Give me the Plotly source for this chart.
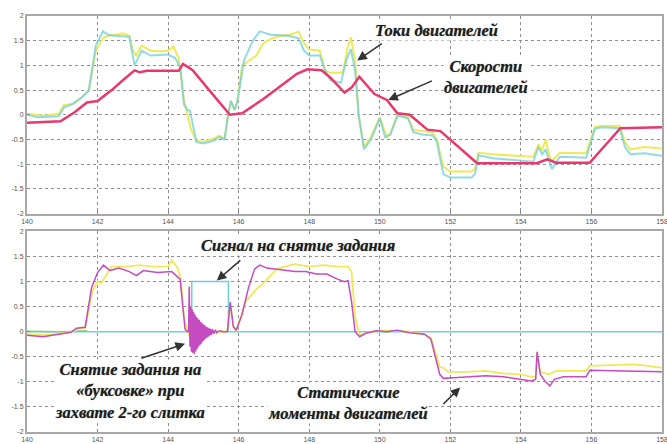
import plotly.graph_objects as go

# ---------------- DATA ----------------
# Top panel: motor currents (yellow, cyan) and motor speeds (red)
top_yellow_t = [140, 140.5, 140.9, 141.05, 141.3, 141.55, 141.75, 141.95, 142.15, 142.3, 142.5, 142.7,
                142.9, 143.0, 143.1, 143.25, 143.5, 143.8, 144.0, 144.15, 144.3, 144.45, 144.55, 144.65,
                144.8, 145.0, 145.3, 145.45, 145.6, 145.7, 145.78, 145.88, 145.96, 146.1, 146.3, 146.5,
                146.7, 146.95, 147.2, 147.45, 147.7, 147.85, 148.0, 148.3, 148.45, 148.6, 148.95, 149.1,
                149.18, 149.3, 149.4, 149.55, 149.75, 150.0, 150.2, 150.3, 150.5, 150.8, 150.95, 151.2,
                151.5, 151.62, 151.8, 152.0, 152.6, 152.7, 152.8, 153.2, 153.8, 154.35, 154.5, 154.6,
                154.7, 154.85, 155.1, 155.5, 155.85, 156.1, 156.3, 156.8, 156.95, 157.1, 157.5, 158]
top_yellow_v = [0.02, -0.02, 0.02, 0.2, 0.22, 0.35, 0.5, 1.3, 1.55, 1.6, 1.62, 1.65,
                1.6, 1.3, 1.2, 1.4, 1.3, 1.28, 1.3, 1.38, 1.15, 0.3, 0.0, -0.3,
                -0.52, -0.55, -0.48, -0.42, -0.48, 0.0, 0.28, 0.1, 0.25, 1.0, 1.1, 1.2,
                1.45, 1.55, 1.6, 1.62, 1.68, 1.45, 1.32, 1.3, 0.9, 0.85, 0.85, 1.4,
                1.57, 1.1, 0.0, -0.65, -0.45, -0.05, -0.45, -0.38, 0.0, -0.05, -0.3, -0.33,
                -0.36, -0.5, -1.05, -1.15, -1.15, -1.1, -0.77, -0.8, -0.83, -0.85, -0.6, -0.72,
                -0.5, -0.95, -0.77, -0.78, -0.78, -0.25, -0.22, -0.23, -0.55, -0.7, -0.65, -0.68]

top_cyan_t = [140, 140.3, 140.9, 141.05, 141.3, 141.55, 141.75, 141.95, 142.15, 142.3, 142.5, 142.9,
              143.05, 143.25, 143.5, 144.0, 144.2, 144.35, 144.45, 144.55, 144.62, 144.8, 145.0, 145.3,
              145.45, 145.6, 145.7, 145.78, 145.88, 145.96, 146.15, 146.4, 146.6, 146.9, 147.4, 147.7,
              147.85, 148.0, 148.3, 148.45, 148.6, 148.9, 149.05, 149.18, 149.3, 149.4, 149.55, 149.75,
              150.0, 150.15, 150.3, 150.5, 150.8, 150.95, 151.2, 151.5, 151.62, 151.8, 152.0, 152.6,
              152.7, 152.8, 153.2, 153.8, 154.35, 154.5, 154.6, 154.7, 154.88, 155.1, 155.85, 156.1,
              156.3, 156.8, 156.95, 157.1, 157.5, 158]
top_cyan_v = [0.0, -0.05, -0.03, 0.15, 0.22, 0.35, 0.48, 1.4, 1.69, 1.62, 1.6, 1.58,
              1.0, 1.3, 1.2, 1.22, 1.15, 0.95, 0.2, 0.1, 0.08, -0.55, -0.58, -0.52,
              -0.45, -0.5, 0.0, 0.28, 0.1, 0.25, 1.1, 1.5, 1.69, 1.62, 1.6, 1.55,
              1.3, 1.2, 1.2, 0.9, 0.7, 0.65, 1.1, 1.33, 0.9, 0.0, -0.7, -0.5,
              -0.07, -0.45, -0.4, -0.02, -0.07, -0.35, -0.4, -0.42, -0.55, -1.2, -1.27, -1.27,
              -1.2, -0.82, -0.88, -0.92, -0.95, -0.65, -0.8, -0.7, -1.1, -0.85, -0.87, -0.28,
              -0.25, -0.27, -0.65, -0.8, -0.78, -0.83]

top_red_t = [140, 140.95, 141.35, 141.7, 142.0, 142.4, 142.75, 143.05, 143.2, 143.4, 144.3, 144.42,
             144.6, 144.7, 145.2, 145.75, 146.1, 146.7, 147.65, 147.95, 148.35, 148.6, 149.0, 149.2,
             149.42, 149.6, 149.85, 150.2, 150.5, 150.85, 151.35, 151.72, 152.76, 154.45, 154.75, 155.0,
             155.95, 156.82, 158]
top_red_v = [-0.16, -0.13, 0.05, 0.25, 0.28, 0.5, 0.72, 0.9, 0.86, 0.89, 0.89, 1.03,
             0.95, 0.9, 0.47, 0.0, 0.03, 0.32, 0.83, 0.92, 0.9, 0.75, 0.45, 0.55,
             0.77, 0.62, 0.42, 0.3, 0.03, 0.0, -0.3, -0.33, -0.98, -0.98, -0.9, -0.97,
             -0.97, -0.27, -0.25]

# Bottom panel: static moments (yellow, magenta) and release signal (cyan)
bot_magenta_t = [140, 140.45, 140.9, 141.25, 141.4, 141.65, 141.83, 142.0, 142.17, 142.35, 142.6, 142.9,
                 143.1, 143.3, 143.7, 144.1, 144.34, 144.48, 144.55, 144.58, 144.6, 144.62, 144.64, 144.66,
                 144.68, 144.7, 144.72, 144.74, 144.76, 144.78, 144.8, 144.82, 144.84, 144.86, 144.88, 144.9,
                 144.92, 144.94, 144.96, 144.98, 145.0, 145.02, 145.04, 145.06, 145.08, 145.1, 145.12, 145.14,
                 145.16, 145.18, 145.2, 145.23, 145.26, 145.3, 145.34, 145.38, 145.45, 145.55, 145.68, 145.76,
                 145.85, 145.93, 146.09, 146.28, 146.45, 146.6, 146.8, 147.0, 147.3, 147.6, 147.9, 148.2,
                 148.5, 148.8, 149.0, 149.1, 149.2, 149.3, 149.43, 149.6, 149.9, 150.2, 150.5, 150.84,
                 151.27, 151.45, 151.7, 151.8, 152.1, 152.5, 153.0, 153.5, 154.0, 154.3, 154.42, 154.46,
                 154.55, 154.7, 154.82, 154.95, 155.2, 155.85, 155.95, 156.5, 157.2, 158]
bot_magenta_v = [-0.07, -0.1, -0.05, -0.01, 0.07, 0.09, 0.88, 1.18, 1.33, 1.22, 1.27, 1.2,
                 1.12, 1.22, 1.18, 1.2, 1.05, 0.05, 0.0, 0.0, 0.9, -0.3, 0.5, -0.4,
                 0.45, -0.42, 0.4, -0.45, 0.35, -0.4, 0.3, -0.35, 0.27, -0.3, 0.24, -0.27,
                 0.2, -0.24, 0.18, -0.2, 0.15, -0.17, 0.13, -0.14, 0.1, -0.12, 0.09, -0.1,
                 0.07, -0.08, 0.06, -0.06, 0.05, -0.04, 0.04, -0.02, 0.02, 0.0, 0.0, 0.59,
                 0.1, 0.03, 0.33, 0.88, 1.25, 1.33, 1.27, 1.25, 1.23, 1.2, 1.2, 1.15,
                 1.15, 1.05, 1.0, 1.02, 0.6, 0.0, -0.1, -0.03, 0.02, 0.0, 0.03, -0.02,
                 -0.05, -0.15, -0.85, -0.93, -0.92, -0.9, -0.88, -0.9, -0.95, -0.98, -0.95, -0.4,
                 -0.85, -1.0, -1.08, -0.95, -0.9, -0.9, -0.77, -0.78, -0.78, -0.8]

bot_yellow_t = [140, 140.5, 141.0, 141.3, 141.45, 141.65, 141.85, 142.0, 142.1, 142.4, 142.8, 143.2,
                143.6, 144.0, 144.1, 144.25, 144.35, 144.45, 144.55, 144.62, 144.7, 145.6, 145.68, 145.76,
                145.85, 145.93, 146.2, 146.5, 146.7, 147.08, 147.3, 147.6, 148.0, 148.4, 148.8, 149.1,
                149.2, 149.3, 149.4, 149.45, 149.6, 150.0, 150.5, 150.84, 151.27, 151.45, 151.7, 151.8,
                151.95, 152.5, 153.0, 153.5, 154.0, 154.3, 154.42, 154.46, 154.55, 154.8, 155.0, 155.85,
                155.95, 156.5, 157.2, 157.6, 158]
bot_yellow_v = [-0.05, -0.07, -0.03, 0.0, 0.06, 0.08, 0.8, 1.0, 0.97, 1.3, 1.3, 1.33,
                1.3, 1.3, 1.42, 1.3, 1.1, 0.3, 0.0, -0.1, 0.0, 0.0, 0.02, 0.55,
                0.1, 0.02, 0.6, 0.85, 0.97, 1.25, 1.3, 1.35, 1.3, 1.33, 1.3, 1.3,
                1.2, 0.3, 0.0, -0.08, -0.02, 0.02, 0.02, 0.0, -0.05, -0.12, -0.7, -0.72,
                -0.8, -0.8, -0.78, -0.83, -0.85, -0.9, -0.9, -0.45, -0.8, -0.85, -0.78, -0.78,
                -0.68, -0.67, -0.65, -0.68, -0.72]

bot_signal_t = [140, 144.67, 144.67, 145.71, 145.71, 158]
bot_signal_v = [0, 0, 1, 1, 0, 0]

bot_green_t = [140, 141.0, 141.7]
bot_green_v = [0.01, 0.0, 0.02]

y_tickvals = [-2, -1.5, -1, -0.5, 0, 0.5, 1, 1.5, 2]
y_ticktext = ["-2", "-1.5", "-1", "-0.5", "0", "0.5", "1", "1.5", "2"]
x_tickvals = [140, 142, 144, 146, 148, 150, 152, 154, 156, 158]

# ---------------- FIGURE ----------------
YELLOW = "#efe95a"
CYAN = "#6fcfdc"
RED = "#e8386c"
MAGENTA = "#c44cc0"
GREEN = "#8cc878"

fig = go.Figure()
fig.add_trace(go.Scatter(x=top_yellow_t, y=top_yellow_v, mode="lines",
                         line=dict(color=YELLOW, width=2), xaxis="x", yaxis="y"))
fig.add_trace(go.Scatter(x=top_cyan_t, y=top_cyan_v, mode="lines", opacity=0.75,
                         line=dict(color=CYAN, width=2), xaxis="x", yaxis="y"))
fig.add_trace(go.Scatter(x=top_red_t, y=top_red_v, mode="lines",
                         line=dict(color=RED, width=2.5), xaxis="x", yaxis="y"))

fig.add_trace(go.Scatter(x=bot_signal_t, y=bot_signal_v, mode="lines",
                         line=dict(color=CYAN, width=1.5), xaxis="x2", yaxis="y2"))
fig.add_trace(go.Scatter(x=bot_green_t, y=bot_green_v, mode="lines",
                         line=dict(color=GREEN, width=1.5), xaxis="x2", yaxis="y2"))
fig.add_trace(go.Scatter(x=bot_yellow_t, y=bot_yellow_v, mode="lines",
                         line=dict(color=YELLOW, width=1.8), xaxis="x2", yaxis="y2"))
fig.add_trace(go.Scatter(x=bot_magenta_t, y=bot_magenta_v, mode="lines",
                         line=dict(color=MAGENTA, width=1.5), xaxis="x2", yaxis="y2"))

axis_common = dict(
    showgrid=True, gridcolor="#8f8f8f", griddash="dot", gridwidth=1,
    showline=True, mirror=True, linecolor="#a8a8a8", linewidth=2,
    ticks="inside", ticklen=3, tickcolor="#888888",
    tickfont=dict(family="Liberation Sans", size=7, color="#555555"),
    zeroline=False, automargin=False,
)

fig.update_layout(
    width=667, height=444,
    margin=dict(l=27, r=5, t=16, b=12),
    paper_bgcolor="white", plot_bgcolor="white",
    showlegend=False,
    xaxis=dict(range=[140, 158], tickvals=x_tickvals, anchor="y", ticklabeloverflow="allow",
               **axis_common),
    yaxis=dict(range=[-2, 2], tickvals=y_tickvals, ticktext=y_ticktext,
               domain=[0.525, 1], anchor="x", **axis_common),
    xaxis2=dict(range=[140, 158], tickvals=x_tickvals, anchor="y2", ticklabeloverflow="allow",
                **axis_common),
    yaxis2=dict(range=[-2, 2], tickvals=y_tickvals, ticktext=y_ticktext,
                domain=[0, 0.482], anchor="x2", **axis_common),
)

TFONT = dict(family="Liberation Serif", size=16.5, color="#1e1e1e",
             weight="bold", style="italic", shadow="0px 0px 1px rgba(0,0,0,0.55)")

def label(text, x, y, xref, yref):
    fig.add_annotation(text=text, x=x, y=y, xref=xref, yref=yref,
                       showarrow=False, font=TFONT,
                       bgcolor="white", borderpad=0, align="center")

def arrow(x0, y0, x1, y1, xref, yref):
    fig.add_annotation(text="", x=x1, y=y1, ax=x0, ay=y0, xref=xref, yref=yref,
                       axref=xref, ayref=yref, showarrow=True, arrowhead=2,
                       arrowsize=1.2, arrowwidth=1.6, arrowcolor="#333333")

label("Токи двигателей", 151.6, 1.7, "x", "y")
arrow(150.1, 1.46, 149.36, 1.1, "x", "y")
label("Скорости<br>двигателей", 153.0, 0.76, "x", "y")
arrow(151.52, 0.7, 150.24, 0.3, "x", "y")

label("Сигнал на снятие задания", 147.69, 1.72, "x2", "y2")
arrow(146.09, 1.45, 145.38, 1.02, "x2", "y2")
label("Снятие задания на<br>«буксовке» при<br>захвате 2-го слитка", 142.92, -1.18, "x2", "y2")
arrow(143.2, -0.54, 144.48, -0.24, "x2", "y2")
label("Статические<br>моменты двигателей", 149.1, -1.43, "x2", "y2")
arrow(151.76, -1.47, 152.28, -1.11, "x2", "y2")

fig.write_html("out.html", config={"displayModeBar": False},
               post_script="document.body.style.margin='0';")
